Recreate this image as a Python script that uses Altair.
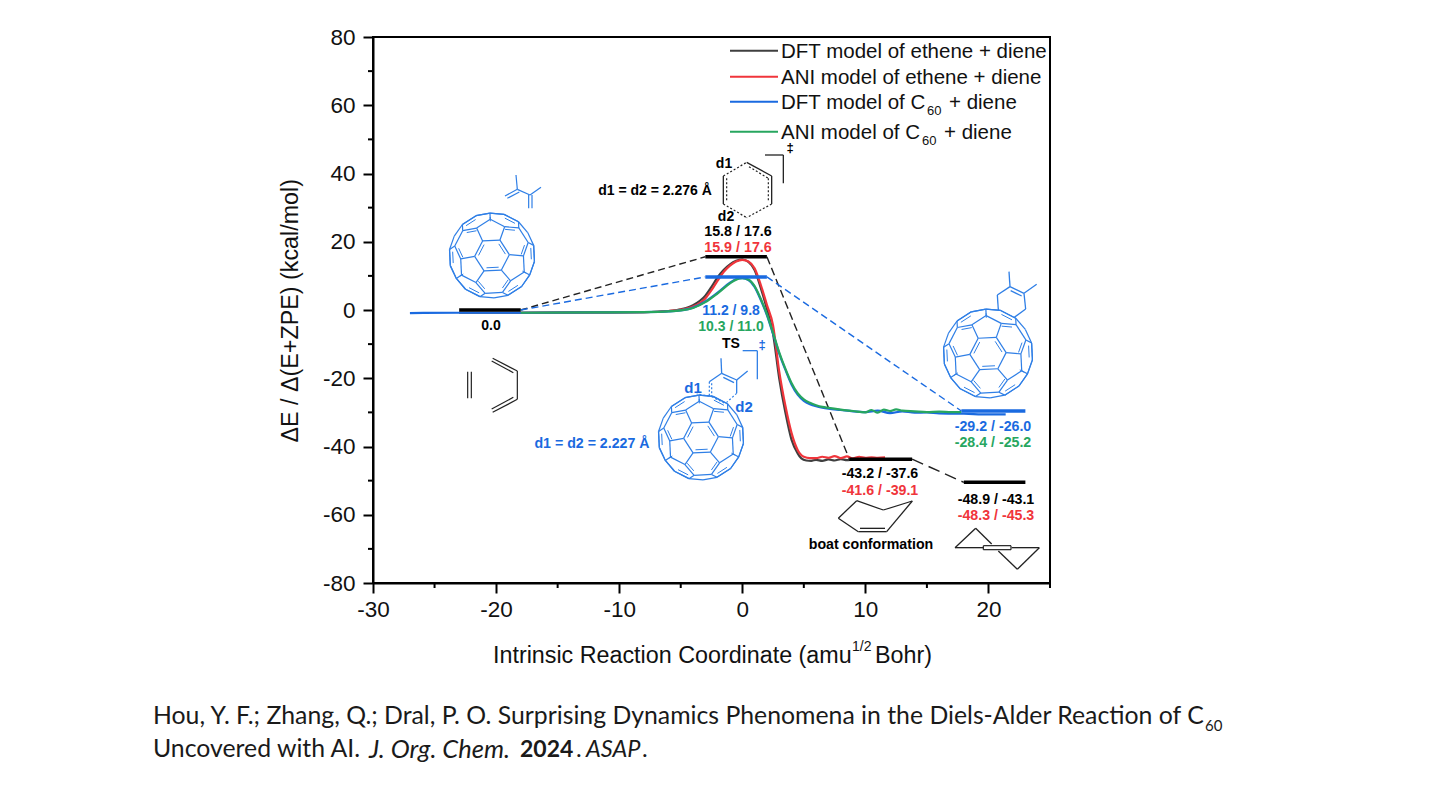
import numpy as np
import pandas as pd
import altair as alt

# ---------- picture calibration (reference pixels -> data units) ----------
PX0, PX1, PY0, PY1 = 373.0, 1050.0, 37.0, 583.0
XMIN, XMAX, YMIN, YMAX = -30.0, 25.0, -80.0, 80.0
W, H = int(PX1 - PX0), int(PY1 - PY0)
def dx(p): return XMIN + (p - PX0) * (XMAX - XMIN) / (PX1 - PX0)
def dy(p): return YMAX - (p - PY0) * (YMAX - YMIN) / (PY1 - PY0)

# ---------- colours ----------
BLACK, RED, BLUE, GREEN = "#3f3f3f", "#f0353b", "#1a6ae0", "#27a65f"
MOL = "#2f7fe6"
FONT = "Liberation Sans"

# ---------- IRC curves ----------
dft_eth_x = [-23,-18,-12,-8,-6,-5,-4,-3,-2.5,-2,-1.5,-1,-0.5,0,0.5,1,1.5,2,2.5,3,3.5,4,4.5,4.8,5.2,5.6,6,6.5,7,7.5,8,8.5,9,9.5,10]
dft_eth_y = [-0.8,-0.8,-0.7,-0.6,-0.3,0.2,1.4,4.2,6.8,9.6,11.8,13.4,14.4,14.8,14.1,11.7,6.5,0.3,-7,-20,-30,-38,-42,-43.5,-44.1,-44.2,-43.9,-44.2,-43.8,-44.1,-43.7,-44,-43.8,-43.9,-43.8]
ani_eth_x = [-18,-12,-8,-6,-5,-4,-3,-2.5,-2,-1.5,-1,-0.5,0,0.5,1,1.5,2,2.5,3,3.5,4,4.5,5,5.5,6,6.5,7,7.5,8,8.5,9,9.5,10,10.5,11,11.6]
ani_eth_y = [-0.8,-0.7,-0.6,-0.3,0.1,1.0,3.4,5.8,8.6,11.2,13.0,14.2,14.7,14.2,12.2,7.4,1.5,-4.5,-18,-28,-36,-41,-43,-43.4,-43.4,-43.0,-43.3,-42.8,-43.4,-42.9,-43.5,-43.0,-43.3,-43.2,-43.3,-43.2]
dft_c60_x = [-27,-23,-18,-12,-8,-6,-5,-4,-3,-2,-1,-0.5,0,0.5,1,1.5,2,2.5,3,3.5,4,4.5,5,5.5,6,6.5,7,8,9,10,11,12,13,14,15,16,18,20,21.4]
dft_c60_y = [-0.9,-0.8,-0.8,-0.7,-0.6,-0.4,-0.1,0.7,2.5,5.1,8.0,9.0,9.3,8.8,6.8,3,-1.5,-7,-12.7,-17.5,-21.8,-24.8,-26.6,-27.6,-28.2,-28.6,-28.9,-29.3,-29.7,-29.9,-29.5,-30.2,-29.7,-30.1,-30.0,-30.3,-30.4,-30.6,-30.6]
ani_c60_x = [-18,-12,-8,-6,-5,-4,-3,-2,-1,-0.5,0,0.5,1,1.5,2,2.5,3,3.5,4,4.5,5,5.5,6,6.5,7,8,9,10,10.5,11,11.5,12,12.5,13,14,15,16,17,17.8]
ani_c60_y = [-0.8,-0.7,-0.6,-0.4,-0.1,0.6,2.3,4.9,7.8,8.9,9.3,8.9,7.0,3.3,-1.2,-6.7,-12.4,-17.2,-21.4,-24.4,-26.2,-27.2,-27.9,-28.4,-28.7,-29.2,-29.6,-30.0,-29.3,-30.1,-29.2,-29.6,-29.1,-29.5,-29.7,-29.9,-29.8,-29.9,-29.9]

# ---------- energy levels and connectors ----------
levels = [  # x0, x1, y, colour, width
    (-23, -18, 0.0, "black", 3.5), (-3, 2, 15.6, "black", 3.5), (8.7, 13.8, -43.7, "black", 3.5),
    (18, 23, -50.5, "black", 3.5), (-3, 2, 9.7, BLUE, 3.5), (17.8, 23, -29.6, BLUE, 3.5),
]
connectors = [  # x0, y0, x1, y1, colour, dash
    (-18, 0.0, -3, 15.6, "#222222", [7, 4]), (-18, 0.0, -3, 9.7, BLUE, [7, 4]),
    (2, 15.6, 8.7, -43.7, "#222222", [8, 4]), (2, 9.7, 17.8, -29.6, BLUE, [7, 4]),
    (13.8, -43.7, 18, -50.5, "#222222", [12, 6]),
]

# ---------- line drawings, in reference-picture coordinates ----------
segs = []  # px0, py0, px1, py1, colour, width, dash
def add(points, color, width=1.2, dash=None):
    for a, b in zip(points[:-1], points[1:]):
        segs.append((a[0], a[1], b[0], b[1], color, width, dash))
def z3(pts, ox, oy): return [(ox + x / 3, oy + y / 3) for x, y in pts]

def hull(points):
    pts = sorted(set(points))
    def half(seq):
        out = []
        for p in seq:
            while len(out) >= 2 and (out[-1][0]-out[-2][0])*(p[1]-out[-2][1]) - (out[-1][1]-out[-2][1])*(p[0]-out[-2][0]) <= 0:
                out.pop()
            out.append(p)
        return out
    lo, up = half(pts), half(pts[::-1])
    return lo[:-1] + up[:-1]

def c60(cx, cy, r, rot_deg):
    phi = (1 + 5 ** 0.5) / 2
    forms = [(0, 1, 3 * phi), (1, 2 + phi, 2 * phi), (phi, 2, 2 * phi + 1)]
    verts = set()
    for f in forms:
        for sa in (1, -1):
            for sb in (1, -1):
                for sc in (1, -1):
                    p = (f[0] * sa, f[1] * sb, f[2] * sc)
                    for k in range(3):
                        verts.add(tuple(round(float(p[(i + k) % 3]), 6) + 0.0 for i in range(3)))
    V = np.array(sorted(verts))
    ico = []
    for sb in (1, -1):
        for sc in (1, -1):
            p = (0, sb, phi * sc)
            for k in range(3):
                ico.append([p[(i + k) % 3] for i in range(3)])
    ico = np.array(ico)
    owner = np.argmin(((V[:, None, :] - ico[None, :, :] * 3) ** 2).sum(axis=2), axis=1)
    e3 = np.array([1, 1, 1]) / 3 ** 0.5
    e1 = np.array([1, -1, 0]) / 2 ** 0.5
    e2 = np.cross(e3, e1)
    R = np.linalg.norm(V[0])
    a = np.radians(rot_deg)
    u = (V @ e1) / R
    v = (V @ e2) / R
    w = (V @ e3) / R
    sx = cx + r * (u * np.cos(a) - v * np.sin(a))
    sy = cy + r * (u * np.sin(a) + v * np.cos(a))
    for i in range(len(V)):
        for j in range(i + 1, len(V)):
            if abs(np.linalg.norm(V[i] - V[j]) - 2) < 0.05 and min(w[i], w[j]) > -0.08:
                add([(sx[i], sy[i]), (sx[j], sy[j])], MOL, 1.2)
                if owner[i] != owner[j]:
                    mx, my = (sx[i] + sx[j]) / 2, (sy[i] + sy[j]) / 2
                    d = np.hypot(mx - cx, my - cy) + 1e-6
                    ox, oy = (cx - mx) / d * 0.07 * r, (cy - my) / d * 0.07 * r
                    tx, ty = (sx[j] - sx[i]) * 0.15, (sy[j] - sy[i]) * 0.15
                    add([(sx[i] + tx + ox, sy[i] + ty + oy), (sx[j] - tx + ox, sy[j] - ty + oy)], MOL, 1.0)
    h = hull([(float(p), float(q)) for p, q in zip(sx, sy)])
    add(h + h[:1], MOL, 1.2)

c60(492, 255.5, 43, 35)
c60(701, 437.5, 43, 35)
c60(988, 353.5, 45, 35)

# free diene above first C60 (blue)
for pts in ([(648,15),(652,58),(690,75),(723,52)], [(652,58),(615,78)], [(658,66),(622,85)], [(686,75),(686,115)], [(696,75),(696,115)]):
    add(z3(pts, 300, 170), MOL)
# ethene + butadiene (black)
for pts in ([(503,605),(503,685)], [(514,605),(514,685)], [(652,603),(652,688)], [(652,603),(578,565)], [(640,608),(575,573)], [(652,688),(578,727)], [(640,682),(575,717)]):
    add(z3(pts, 300, 170), "#222222")
# black TS hexagon
for pts in ([(320,397),(395,438),(395,522)], [(250,438),(250,522)], [(375,375),(430,375),(430,460)]):
    add(z3(pts, 640, 30), "#222222", 1.3)
for pts in ([(250,438),(320,397)], [(250,522),(320,563)], [(395,522),(320,563)], [(327,410),(385,445),(385,515)], [(260,445),(260,515)]):
    add(z3(pts, 640, 30), "#222222", 1.2, [2, 2])
# blue TS diene on C60
for pts in ([(603,55),(605,100),(650,120),(683,93)], [(610,112),(642,128)], [(650,120),(650,160)], [(605,100),(568,125)], [(668,32),(712,32),(712,118)]):
    add(z3(pts, 520, 340), MOL, 1.3)
for pts in ([(568,125),(568,168)], [(650,160),(620,187)], [(575,130),(575,170),(615,190)], [(568,168),(530,162)]):
    add(z3(pts, 520, 340), MOL, 1.2, [2, 2])
# product diene on C60
for pts in ([(867,95),(870,140),(912,160),(950,133)], [(872,152),(905,168)], [(912,160),(917,207),(883,232)], [(870,140),(832,165),(835,210)]):
    add(z3(pts, 720, 240), MOL, 1.3)
# boat and chair cyclohexene
add(z3([(175,235),(230,182),(310,210),(397,183),(320,275),(235,275),(175,235)], 780, 440), "#222222", 1.3)
add(z3([(240,265),(315,265)], 780, 440), "#222222", 1.3)
for pts in ([(635,312),(587,265),(525,323),(610,323)], [(695,323),(778,323),(712,388),(655,333)]):
    add(z3(pts, 780, 440), "#222222", 1.3)
for pts in ([(610,317),(693,317),(693,329),(610,329),(610,317)],):
    add(z3(pts, 780, 440), "#222222", 1.2)

# ---------- text ----------
rows = []  # text, px, py, size, colour, align, weight, style, font, angle
def T(text, px, py, size=13, color="black", align="center", weight="bold", style="normal", font=FONT, angle=0):
    rows.append((text, px, py + 0.8, size, color, align, weight, style, font, angle))

INK = "#111111"
legend_rows = [("DFT model of ethene + diene", 50.7, BLACK), ("ANI model of ethene + diene", 76.7, RED),
               ("DFT model of C", 101.7, BLUE), ("ANI model of C", 131.7, GREEN)]
for txt, py, col in legend_rows:
    add([(730, py), (778, py)], col, 2)
    T(txt, 781, py, 20.5, INK, "left", "normal")
T("60", 927, 110, 13, INK, "left", "normal")
T("+ diene", 949, 101.7, 20.5, INK, "left", "normal")
T("60", 922, 140, 13, INK, "left", "normal")
T("+ diene", 944, 131.7, 20.5, INK, "left", "normal")

T("d1 = d2 = 2.276 Å", 655, 190, 14)
T("d1", 724, 163, 14); T("d2", 726, 216, 14); T("‡", 790, 147, 13)
T("15.8 / 17.6", 738, 231, 14.3); T("15.9 / 17.6", 738, 247, 14.3, RED)
T("0.0", 491, 325, 14)
T("11.2 / 9.8", 731, 310, 14, BLUE); T("10.3 / 11.0", 731, 326, 14, GREEN)
T("TS", 731, 343, 14); T("‡", 762, 344, 13, BLUE)
T("d1", 693, 387, 15, BLUE); T("d2", 744, 406, 15, BLUE)
T("d1 = d2 = 2.227 Å", 592, 443, 14.2, BLUE)
T("-29.2 / -26.0", 993, 426, 14.2, BLUE); T("-28.4 / -25.2", 993, 442, 14.2, GREEN)
T("-43.2 / -37.6", 880, 473, 14.2); T("-41.6 / -39.1", 880, 490, 14.2, RED)
T("-48.9 / -43.1", 996, 499, 14.2); T("-48.3 / -45.3", 996, 515, 14.2, RED)
T("boat conformation", 871, 544, 14.2)

T("Intrinsic Reaction Coordinate (amu", 493, 655, 23.3, INK, "left", "normal")
T("1/2", 852, 646, 14, INK, "left", "normal")
T("Bohr)", 875, 655, 23.3, INK, "left", "normal")
T("ΔE / Δ(E+ZPE) (kcal/mol)", 291, 310, 23.3, INK, "center", "normal", angle=270)

CAP = "Lato"
T("Hou, Y. F.; Zhang, Q.; Dral, P. O. Surprising Dynamics Phenomena in the Diels-Alder Reaction of C", 153, 716, 24.8, "#1a1a1a", "left", "normal", font=CAP)
T("60", 1205, 725, 15, "#1a1a1a", "left", "normal", font=CAP)
T("Uncovered with AI. ", 153, 749, 24.8, "#1a1a1a", "left", "normal", font=CAP)
T("J. Org. Chem.", 369, 749, 25.5, "#1a1a1a", "left", "normal", "italic", font=CAP)
T("2024", 520, 749, 23, "#1a1a1a", "left", "bold", font=CAP)
T(".", 576, 749, 24, "#1a1a1a", "left", "normal", font=CAP)
T("ASAP", 586, 749, 23.5, "#1a1a1a", "left", "normal", "italic", font=CAP)
T(".", 642, 749, 24, "#1a1a1a", "left", "normal", font=CAP)

# ---------- axes ----------
x_major = [-30, -20, -10, 0, 10, 20]
x_minor = [-25, -15, -5, 5, 15, 25]
y_major = [-80, -60, -40, -20, 0, 20, 40, 60, 80]
y_minor = [-70, -50, -30, -10, 10, 30, 50, 70]

xs = alt.Scale(domain=[XMIN, XMAX], nice=False, zero=False)
ys = alt.Scale(domain=[YMIN, YMAX], nice=False, zero=False)
ax_kw = dict(title=None, grid=False, domain=True, domainColor="black", domainWidth=2, ticks=True, tickColor="black",
             tickWidth=2, tickSize=10, labelFont=FONT, labelFontSize=22.5, labelColor=INK,
             labelExpr="'' + datum.value")
x_axis = alt.Axis(values=x_major, labelFlush=False, labelPadding=5, **ax_kw)
y_axis = alt.Axis(values=y_major, labelPadding=8, **ax_kw)
def X(f): return alt.X(f, type="quantitative", scale=xs, axis=x_axis)
def Y(f): return alt.Y(f, type="quantitative", scale=ys, axis=y_axis)

layers = []
layers.append(alt.Chart(pd.DataFrame({"v": y_minor})).mark_rule(color="black", strokeWidth=2).encode(
    y=Y("v"), x=alt.value(-5), x2=alt.value(0)))
layers.append(alt.Chart(pd.DataFrame({"v": x_minor})).mark_rule(color="black", strokeWidth=2).encode(
    x=X("v"), y=alt.value(H), y2=alt.value(H + 5)))

# connectors
for x0, y0, x1, y1, col, dash in connectors:
    df = pd.DataFrame({"x": [x0], "y": [y0], "x2": [x1], "y2": [y1]})
    layers.append(alt.Chart(df).mark_rule(color=col, strokeWidth=1.4, strokeDash=dash).encode(
        x=X("x"), y=Y("y"), x2="x2", y2="y2"))

# curves
for cx_, cy_, col in ((dft_eth_x, dft_eth_y, BLACK), (ani_eth_x, ani_eth_y, RED),
                      (dft_c60_x, dft_c60_y, BLUE), (ani_c60_x, ani_c60_y, GREEN)):
    df = pd.DataFrame({"x": cx_, "y": cy_})
    layers.append(alt.Chart(df).mark_line(color=col, strokeWidth=2.2, interpolate="monotone").encode(
        x=X("x"), y=Y("y"), order=alt.Order("x")))

# levels
for x0, x1, y, col, w in levels:
    df = pd.DataFrame({"x": [x0], "x2": [x1], "y": [y]})
    layers.append(alt.Chart(df).mark_rule(color=col, strokeWidth=w).encode(x=X("x"), x2="x2", y=Y("y")))

# line drawings, grouped by style
sd = pd.DataFrame(segs, columns=["a", "b", "c", "d", "color", "width", "dash"])
sd["x"] = dx(sd.a); sd["x2"] = dx(sd.c); sd["y"] = dy(sd.b); sd["y2"] = dy(sd.d)
sd["dkey"] = sd.dash.map(lambda d: "" if d is None else str(d))
for (col, w, dk), g in sd.groupby(["color", "width", "dkey"]):
    kw = dict(color=col, strokeWidth=w)
    if dk:
        kw["strokeDash"] = [2, 2]
    layers.append(alt.Chart(g[["x", "y", "x2", "y2"]]).mark_rule(**kw).encode(
        x=X("x"), y=Y("y"), x2="x2", y2="y2"))

# text, grouped by style
td = pd.DataFrame(rows, columns=["text", "px", "py", "size", "color", "align", "weight", "fstyle", "font", "angle"])
td["x"] = dx(td.px); td["y"] = dy(td.py)
for (al, we, st, fo, an), g in td.groupby(["align", "weight", "fstyle", "font", "angle"]):
    layers.append(alt.Chart(g[["text", "x", "y", "size", "color"]]).mark_text(
        align=al, baseline="middle", fontWeight=we, fontStyle=st, font=fo, angle=an).encode(
        x=X("x"), y=Y("y"), text="text:N",
        color=alt.Color("color:N", scale=None), size=alt.Size("size:Q", scale=None)))

chart = alt.layer(*layers).properties(
    width=W, height=H,
    padding={"left": 365, "top": 29, "right": 1424 - 365 - W, "bottom": 785 - 29 - H},
    autosize=alt.AutoSizeParams(type="none"),
    background="white",
).configure_view(stroke="black", strokeWidth=2)

chart.save("out.html", embed_options={"renderer": "svg", "actions": False})
